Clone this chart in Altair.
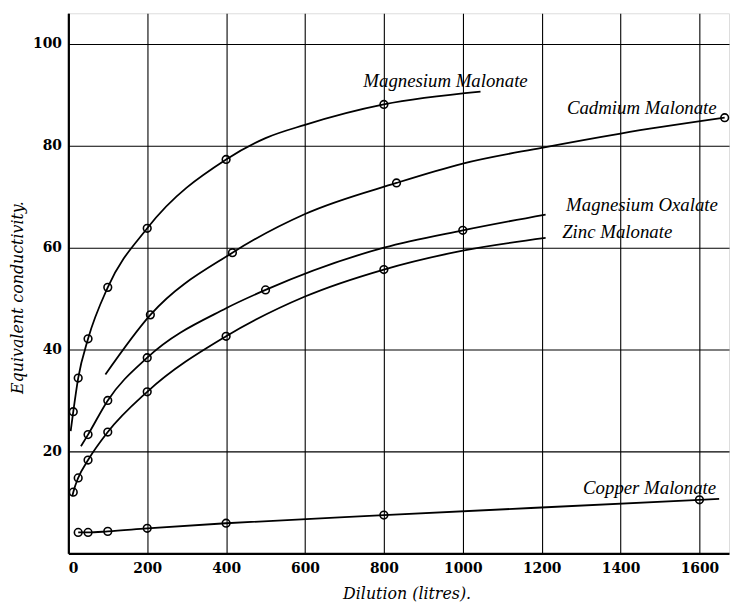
import altair as alt
import pandas as pd

# Magnesium Malonate (curve points; marker flag = measured point circle)
mg_mal_x = [6, 12.5, 25, 50, 100, 200, 400, 500, 600, 800, 1045]
mg_mal_y = [24.0, 27.8, 34.4, 42.1, 52.2, 63.8, 77.3, 81.5, 84.1, 88.1, 90.6]
mg_mal_m = [0, 1, 1, 1, 1, 1, 1, 0, 0, 1, 0]

# Cadmium Malonate
cd_mal_x = [94, 208, 416, 600, 832, 1000, 1200, 1400, 1664]
cd_mal_y = [35.1, 46.8, 59.0, 66.6, 72.7, 76.5, 79.6, 82.4, 85.5]
cd_mal_m = [0, 1, 1, 0, 1, 0, 0, 0, 1]

# Magnesium Oxalate
mg_ox_x = [32, 50, 100, 200, 400, 500, 800, 1000, 1210]
mg_ox_y = [21.0, 23.3, 30.0, 38.4, 48.1, 51.7, 60.0, 63.4, 66.5]
mg_ox_m = [0, 1, 1, 1, 0, 1, 0, 1, 0]

# Zinc Malonate
zn_mal_x = [10, 12.5, 25, 50, 100, 200, 400, 600, 800, 1000, 1210]
zn_mal_y = [11.2, 12.0, 14.8, 18.3, 23.8, 31.7, 42.6, 50.4, 55.7, 59.4, 61.9]
zn_mal_m = [0, 1, 1, 1, 1, 1, 1, 0, 1, 0, 0]

# Copper Malonate
cu_mal_x = [25, 50, 100, 200, 400, 800, 1600, 1650]
cu_mal_y = [4.1, 4.1, 4.3, 4.9, 5.9, 7.5, 10.5, 10.7]
cu_mal_m = [1, 1, 1, 1, 1, 1, 1, 0]

series_names = ["Magnesium Malonate", "Cadmium Malonate", "Magnesium Oxalate",
                "Zinc Malonate", "Copper Malonate"]
label_x = [748, 1264, 1262, 1252, 1305]
label_y = [92.6, 87.4, 68.3, 63.0, 12.8]

x_ticks = [0, 200, 400, 600, 800, 1000, 1200, 1400, 1600]
y_ticks = [20, 40, 60, 80, 100]

rows = []
for name, xs, ys, ms in zip(series_names,
                            [mg_mal_x, cd_mal_x, mg_ox_x, zn_mal_x, cu_mal_x],
                            [mg_mal_y, cd_mal_y, mg_ox_y, zn_mal_y, cu_mal_y],
                            [mg_mal_m, cd_mal_m, mg_ox_m, zn_mal_m, cu_mal_m]):
    for x, y, m in zip(xs, ys, ms):
        rows.append({"series": name, "x": x, "y": y, "marker": m})
df = pd.DataFrame(rows)
labels = pd.DataFrame({"label": series_names, "x": label_x, "y": label_y})

xscale = alt.Scale(domain=[0, 1675], nice=False, zero=False)
yscale = alt.Scale(domain=[0, 106], nice=False, zero=False)

xaxis = alt.Axis(values=x_ticks, format="d", title="Dilution (litres).", grid=True,
                 gridColor="black", gridWidth=1.1, gridOpacity=1,
                 domainColor="black", domainWidth=2.2, ticks=False,
                 labelFont="DejaVu Serif", labelFontWeight="bold", labelFontSize=14,
                 labelColor="black", labelPadding=8,
                 titleFont="DejaVu Serif", titleFontStyle="italic",
                 titleFontWeight="normal", titleFontSize=16, titleColor="black",
                 titlePadding=11, titleX=342)
yaxis = alt.Axis(values=y_ticks, format="d", title="Equivalent conductivity.", grid=True,
                 gridColor="black", gridWidth=1.1, gridOpacity=1,
                 domainColor="black", domainWidth=2.2, ticks=False,
                 labelFont="DejaVu Serif", labelFontWeight="bold", labelFontSize=14,
                 labelColor="black", labelPadding=7,
                 titleFont="DejaVu Serif", titleFontStyle="italic",
                 titleFontWeight="normal", titleFontSize=16, titleColor="black",
                 titlePadding=7, titleY=287)

base = alt.Chart(df)
lines = base.mark_line(color="black", strokeWidth=1.8, interpolate="monotone").encode(
    x=alt.X("x:Q", scale=xscale, axis=xaxis),
    y=alt.Y("y:Q", scale=yscale, axis=yaxis),
    detail="series:N",
)
points = base.transform_filter(alt.datum.marker == 1).mark_point(
    shape="circle", filled=False, color="black", size=60, strokeWidth=1.6, opacity=1
).encode(x=alt.X("x:Q", scale=xscale), y=alt.Y("y:Q", scale=yscale))

texts = alt.Chart(labels).mark_text(
    align="left", baseline="middle", font="Liberation Serif", fontStyle="italic",
    fontSize=19, color="black"
).encode(x=alt.X("x:Q", scale=xscale), y=alt.Y("y:Q", scale=yscale), text="label:N")

chart = alt.layer(lines, points, texts).properties(
    width=668, height=546,
    autosize=alt.AutoSizeParams(type="none"),
    padding={"left": 61, "top": 2, "right": 2, "bottom": 54},
).configure_view(stroke="black", strokeWidth=2.2).configure(background="white")

chart.save("out.html", embed_options={"renderer": "svg", "actions": False})
